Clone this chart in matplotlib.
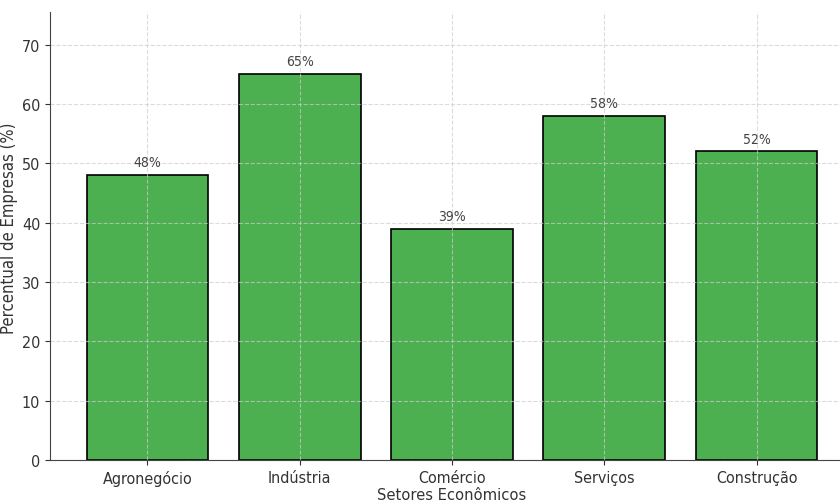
import matplotlib.pyplot as plt

# dados
setores = ['Agronegócio', 'Indústria', 'Comércio', 'Serviços', 'Construção']
percentuais = [48, 65, 39, 58, 52]

plt.rcParams['font.family'] = ['DejaVu Sans']
plt.rcParams['font.stretch'] = 'condensed'

fig = plt.figure(figsize=(8.4, 5.02), dpi=100)
# eixo um pouco maior que a figura (imagem original recortada)
ax = fig.add_axes([50 / 840, 41 / 502, 804 / 840, 448 / 502])

bars = ax.bar(setores, percentuais, width=0.8, color='#4caf50',
              edgecolor='black', linewidth=1.2)

for b, v in zip(bars, percentuais):
    ax.text(b.get_x() + b.get_width() / 2, v + 1, f'{v}%',
            ha='center', va='bottom', fontsize=10, color='#444444')

ax.set_xlim(-0.64, 4.64)
ax.set_ylim(0, 75.5)
ax.grid(True, linestyle='--', color='#cccccc', alpha=0.7)
ax.spines['top'].set_visible(False)
ax.spines['right'].set_visible(False)
ax.spines['left'].set_color('#444444')
ax.spines['bottom'].set_color('#444444')
ax.tick_params(colors='#333333', labelsize=11.5)

ax.set_xlabel('Setores Econômicos', fontsize=11.8, color='#333333', labelpad=0)
ax.xaxis.set_label_coords(0.5, -27 / 448)
ax.set_ylabel('Percentual de Empresas (%)', fontsize=12, color='#333333')
ax.yaxis.set_label_coords(-32 / 804, 0.52)

fig.savefig('out.png', dpi=100)
